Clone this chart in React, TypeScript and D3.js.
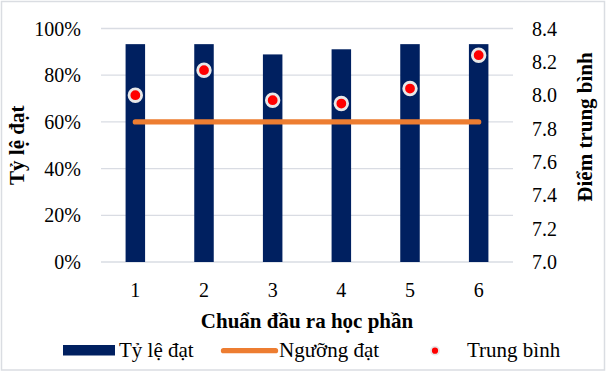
import React from "react";
import * as d3 from "d3";

// Learning outcomes (CLOs) and their results
const categories = ["1", "2", "3", "4", "5", "6"];
const passRate = [0.933, 0.933, 0.889, 0.911, 0.933, 0.933];
const meanScore = [8.0, 8.15, 7.97, 7.95, 8.04, 8.24];
const threshold = 0.6;

const leftTicks = [0, 0.2, 0.4, 0.6, 0.8, 1.0];
const rightTicks = [7.0, 7.2, 7.4, 7.6, 7.8, 8.0, 8.2, 8.4];

const W = 606;
const H = 372;
const plot = { left: 101, right: 513, top: 28.5, bottom: 262 };

const NAVY = "#002060";
const ORANGE = "#ED7D31";
const RED = "#FF0000";
const GRID = "#D9DCE3";
const FONT = "Liberation Serif, Times New Roman, serif";

export default function App() {
  const x = d3
    .scaleBand<string>()
    .domain(categories)
    .range([plot.left, plot.right])
    .paddingInner(0.716)
    .paddingOuter(0.358);
  const yL = d3.scaleLinear().domain([0, 1]).range([plot.bottom, plot.top]);
  const yR = d3.scaleLinear().domain([7.0, 8.4]).range([plot.bottom, plot.top]);
  const cx = (c: string) => (x(c) ?? 0) + x.bandwidth() / 2;
  const pct = d3.format(".0%");
  const one = d3.format(".1f");

  const thresholdLine = d3
    .line<string>()
    .x((c) => cx(c))
    .y(() => yL(threshold));

  const midY = (plot.top + plot.bottom) / 2;

  return (
    <svg width={W} height={H} style={{ position: "absolute", left: 0, top: 0 }} fontFamily={FONT}>
      <rect x={0} y={0} width={W} height={H} fill="#fff" />
      <rect x={1.5} y={1.5} width={W - 3} height={H - 3.5} fill="none" stroke="#DADDE2" strokeWidth={1.5} />

      {/* gridlines */}
      {leftTicks.map((t) => (
        <line key={t} x1={plot.left} x2={plot.right} y1={yL(t)} y2={yL(t)} stroke={GRID} strokeWidth={1.3} />
      ))}

      {/* pass-rate bars */}
      {categories.map((c, i) => (
        <rect
          key={c}
          x={x(c)}
          y={yL(passRate[i])}
          width={x.bandwidth()}
          height={yL(0) - yL(passRate[i])}
          fill={NAVY}
        />
      ))}

      {/* pass threshold */}
      <path d={thresholdLine(categories) ?? ""} stroke={ORANGE} strokeWidth={5.3} strokeLinecap="round" fill="none" />

      {/* mean score markers */}
      {categories.map((c, i) => (
        <circle key={c} cx={cx(c)} cy={yR(meanScore[i])} r={6.3} fill={RED} stroke="#E8E8E8" strokeWidth={2.8} />
      ))}

      {/* left axis */}
      {leftTicks.map((t) => (
        <text key={t} x={81} y={yL(t)} dy="0.35em" textAnchor="end" fontSize={20} fontFamily={FONT} fill="#000">
          {pct(t)}
        </text>
      ))}
      {/* right axis */}
      {rightTicks.map((t) => (
        <text key={t} x={532} y={yR(t)} dy="0.35em" textAnchor="start" fontSize={20} fontFamily={FONT} fill="#000">
          {one(t)}
        </text>
      ))}
      {/* category axis */}
      {categories.map((c) => (
        <text key={c} x={cx(c)} y={297} textAnchor="middle" fontSize={20} fontFamily={FONT} fill="#000">
          {c}
        </text>
      ))}

      {/* axis titles */}
      <text
        transform={`translate(24,${midY}) rotate(-90)`}
        textAnchor="middle"
        fontSize={21}
        fontWeight="bold"
        fontFamily={FONT}
      >
        Tỷ lệ đạt
      </text>
      <text
        transform={`translate(592,${127}) rotate(-90)`}
        textAnchor="middle"
        fontSize={21}
        fontWeight="bold"
        fontFamily={FONT}
      >
        Điểm trung bình
      </text>
      <text
        x={(plot.left + plot.right) / 2}
        y={328}
        textAnchor="middle"
        fontSize={21}
        fontWeight="bold"
        fontFamily={FONT}
      >
        Chuẩn đầu ra học phần
      </text>

      {/* legend */}
      <rect x={63} y={345} width={52} height={10.5} fill={NAVY} />
      <text x={119} y={357} fontSize={21} fontFamily={FONT}>Tỷ lệ đạt</text>
      <line x1={223.5} x2={275.5} y1={350.7} y2={350.7} stroke={ORANGE} strokeWidth={5.3} strokeLinecap="round" />
      <text x={279} y={357} fontSize={21} fontFamily={FONT}>Ngưỡng đạt</text>
      <circle cx={435} cy={350.7} r={4} fill={RED} stroke="#E8E8E8" strokeWidth={1.8} />
      <text x={467} y={357} fontSize={21} fontFamily={FONT}>Trung bình</text>
    </svg>
  );
}
